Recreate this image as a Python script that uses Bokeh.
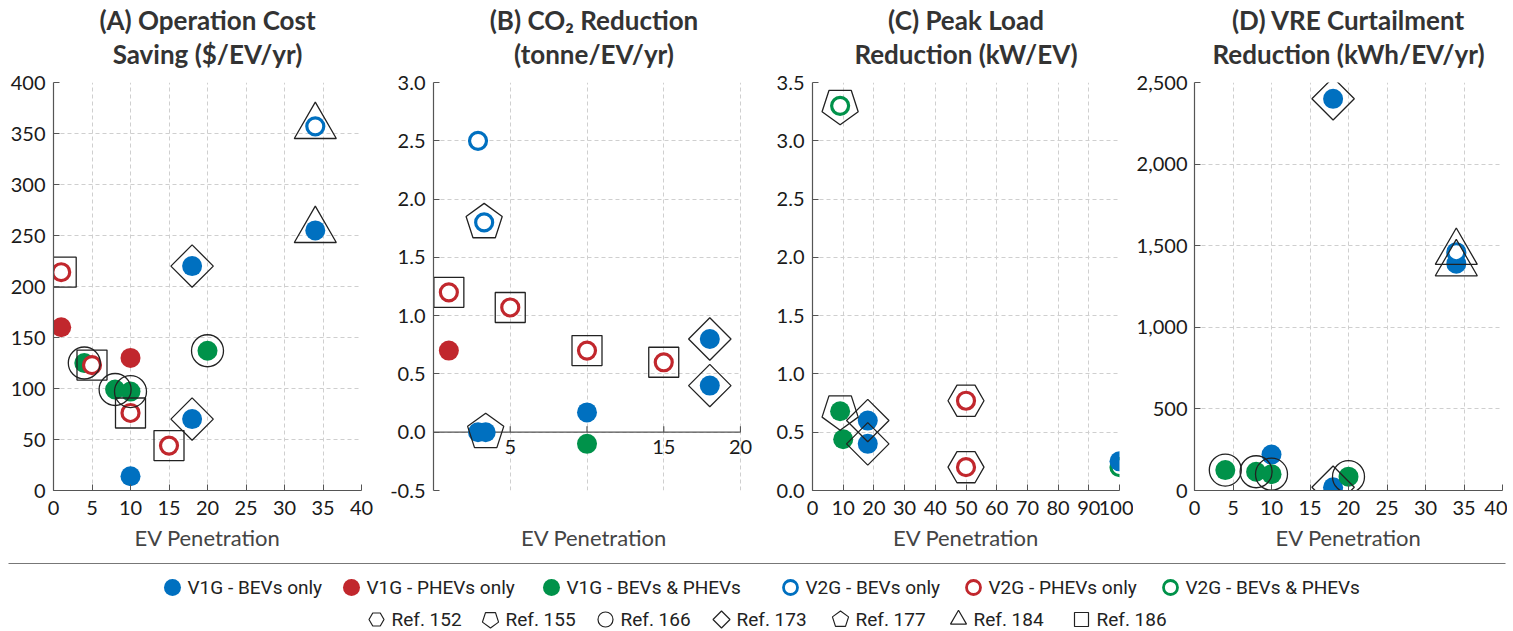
import math
from bokeh.plotting import figure
from bokeh.layouts import row, column
from bokeh.models import (Range1d, FixedTicker, Label, Title, NumeralTickFormatter,
                          ColumnDataSource)
from bokeh.core.properties import value
from bokeh.embed import file_html
from bokeh.resources import INLINE

# ---------------- data ----------------
SERIES_KEYS = ["V1G-B", "V1G-P", "V1G-BP", "V2G-B", "V2G-P", "V2G-BP"]
SERIES_LABELS = ["V1G - BEVs only", "V1G - PHEVs only", "V1G - BEVs & PHEVs",
                 "V2G - BEVs only", "V2G - PHEVs only", "V2G - BEVs & PHEVs"]
SERIES_COLORS = ["#0070C0", "#C1272D", "#00924A", "#0070C0", "#C1272D", "#00924A"]
SERIES_OPEN = [False, False, False, True, True, True]

REF_KEYS = ["152", "155", "166", "173", "177", "184", "186"]
REF_LABELS = ["Ref. 152", "Ref. 155", "Ref. 166", "Ref. 173", "Ref. 177", "Ref. 184", "Ref. 186"]

# (A) Operation cost saving ($/EV/yr)
a_x = [1, 1, 4, 5, 10, 8, 10, 10, 10, 15, 18, 18, 20, 34, 34]
a_y = [214, 160, 125, 123, 130, 99, 97, 76, 14, 44, 70, 220, 137, 255, 357]
a_s = ["V2G-P", "V1G-P", "V1G-BP", "V2G-P", "V1G-P", "V1G-BP", "V1G-BP", "V2G-P",
       "V1G-B", "V2G-P", "V1G-B", "V1G-B", "V1G-BP", "V1G-B", "V2G-B"]
a_r = ["186", "", "166", "186", "", "166", "166", "186", "", "186", "173", "173",
       "166", "184", "184"]

# (B) CO2 reduction (tonne/EV/yr)
b_x = [2.9, 3.3, 1, 1, 5, 10, 15, 18, 18, 10, 10, 2.9, 3.4]
b_y = [2.5, 1.8, 1.2, 0.7, 1.07, 0.7, 0.6, 0.8, 0.4, 0.17, -0.1, 0, 0]
b_s = ["V2G-B", "V2G-B", "V2G-P", "V1G-P", "V2G-P", "V2G-P", "V2G-P", "V1G-B",
       "V1G-B", "V1G-B", "V1G-BP", "V1G-B", "V1G-B"]
b_r = ["", "177", "186", "", "186", "186", "186", "173", "173", "", "", "", "177"]

# (C) Peak load reduction (kW/EV)
c_x = [9, 9, 10, 18, 18, 50, 50, 100, 100]
c_y = [3.3, 0.68, 0.44, 0.6, 0.4, 0.77, 0.2, 0.2, 0.25]
c_s = ["V2G-BP", "V1G-BP", "V1G-BP", "V1G-B", "V1G-B", "V2G-P", "V2G-P", "V2G-BP", "V1G-B"]
c_r = ["155", "155", "", "173", "173", "152", "152", "", ""]

# (D) VRE curtailment reduction (kWh/EV/yr)
d_x = [18, 34, 34, 10, 4, 8, 10, 18, 20]
d_y = [2400, 1390, 1460, 220, 125, 115, 100, 20, 85]
d_s = ["V1G-B", "V1G-B", "V2G-B", "V1G-B", "V1G-BP", "V1G-BP", "V1G-BP", "V1G-B", "V1G-BP"]
d_r = ["173", "184", "184", "", "166", "166", "166", "173", "166"]

# axes ticks
a_xticks = [0, 5, 10, 15, 20, 25, 30, 35, 40]
a_yticks = [0, 50, 100, 150, 200, 250, 300, 350, 400]
b_xticks = [5, 10, 15, 20]
b_xlabel_ticks = [5, 15, 20]
b_yticks = [-0.5, 0, 0.5, 1.0, 1.5, 2.0, 2.5, 3.0]
c_xticks = [0, 10, 20, 30, 40, 50, 60, 70, 80, 90, 100]
c_yticks = [0, 0.5, 1.0, 1.5, 2.0, 2.5, 3.0, 3.5]
d_xticks = [0, 5, 10, 15, 20, 25, 30, 35, 40]
d_yticks = [0, 500, 1000, 1500, 2000, 2500]

# ---------------- styles ----------------
FONT = "Lato"
LEG_FONT = "Roboto"
AX_COLOR = "#555555"
REF_COLOR = "#222222"
FRAME_H = 408
TICK_FS = "20px"
TICK_IN = 6

REF_STYLE = {
    "152": ("hex", 36, 0.0),
    "155": ("pent_down", 19, 0.0),
    "166": ("circle", 32, 0.0),
    "173": ("square", 30, math.pi / 4),
    "177": ("pent_up", 19, 0.0),
    "184": ("triangle", 42, 0.0),
    "186": ("square", 30, 0.0),
}


def pentagon(cx, cy, R, up, sx, sy):
    base = 90 if up else -90
    xs = [cx + R * math.cos(math.radians(base + 72 * k)) / sx for k in range(5)]
    ys = [cy + R * math.sin(math.radians(base + 72 * k)) / sy for k in range(5)]
    return xs, ys


def style_axis(ax, standoff):
    ax.axis_line_color = AX_COLOR
    ax.axis_line_width = 1.2
    ax.major_tick_line_color = AX_COLOR
    ax.major_tick_in = TICK_IN
    ax.major_tick_out = 0
    ax.minor_tick_line_color = None
    ax.major_label_text_font = FONT
    ax.major_label_text_font_size = TICK_FS
    ax.major_label_text_color = "#1a1a1a"
    ax.major_label_standoff = standoff


def make_panel(line1, line2, xs, ys, ss, rs, xr, yr, xticks, yticks, yfmt,
               frame_w, bl, br, zero_axis=False, xlabel_ticks=None, ystandoff=8,
               x_extra=0.0):
    sx = frame_w / (xr[1] - xr[0])
    sy = FRAME_H / (yr[1] - yr[0])
    extra_px = int(round(x_extra * sx))
    p = figure(frame_width=frame_w + extra_px, frame_height=FRAME_H,
               x_range=Range1d(xr[0], xr[1] + extra_px / sx), y_range=Range1d(*yr),
               toolbar_location=None, output_backend="svg",
               min_border_left=bl, min_border_right=br - extra_px,
               min_border_top=82, min_border_bottom=62)
    p.outline_line_color = None
    p.background_fill_color = "white"
    p.border_fill_color = "white"

    # two-line bold title (spacer keeps it off the frame)
    spacer = Title(text=" ", text_font=FONT, text_font_size="9px", standoff=0)
    t2 = Title(text=line2, align="center", text_font=FONT, text_font_size="26px",
               text_font_style="bold", text_color="#333333", standoff=0)
    p.add_layout(spacer, "above")
    p.add_layout(t2, "above")
    p.title.text = line1
    p.title.align = "center"
    p.title.text_font = FONT
    p.title.text_font_size = "26px"
    p.title.text_font_style = "bold"
    p.title.text_color = "#333333"
    p.title.standoff = 0

    style_axis(p.yaxis[0], ystandoff)
    p.yaxis.ticker = FixedTicker(ticks=yticks)
    p.yaxis.formatter = NumeralTickFormatter(format=yfmt)

    xa = p.xaxis[0]
    style_axis(xa, 10)
    xa.axis_label = "EV Penetration"
    xa.axis_label_text_font = FONT
    xa.axis_label_text_font_size = "22px"
    xa.axis_label_text_font_style = "normal"
    xa.axis_label_text_color = "#444444"
    xa.axis_label_standoff = 6
    if zero_axis:
        # x axis crossing at y = 0
        xa.ticker = FixedTicker(ticks=[])
        xa.axis_line_color = None
        xa.major_tick_line_color = None
        xa.axis_label_standoff = 33
        p.segment(x0=[xr[0]], y0=[0], x1=[xr[1]], y1=[0], line_color=AX_COLOR,
                  line_width=1.2)
        p.segment(x0=xticks, y0=[0] * len(xticks), x1=xticks,
                  y1=[TICK_IN / sy] * len(xticks), line_color=AX_COLOR, line_width=1.2)
        for v in xlabel_ticks:
            p.add_layout(Label(x=v, y=0, y_offset=-8, text=str(v),
                               text_align="center", text_baseline="top",
                               text_font=FONT, text_font_size=TICK_FS,
                               text_color="#1a1a1a"))
    else:
        xa.ticker = FixedTicker(ticks=xticks)

    p.xgrid.ticker = FixedTicker(ticks=xticks)
    p.ygrid.ticker = FixedTicker(ticks=yticks)
    p.grid.grid_line_color = "#cfcfcf"
    p.grid.grid_line_dash = "4 3"
    p.grid.grid_line_width = 1

    if extra_px:
        # hide grid beyond the data range (room kept only for the last tick label)
        p.quad(left=[xr[1] + 0.5 / sx], right=[xr[1] + extra_px / sx],
               bottom=[yr[0]], top=[yr[1]], fill_color="white", line_color=None)

    # data points
    fill, line, lw, la, size = [], [], [], [], []
    for s in ss:
        i = SERIES_KEYS.index(s)
        c = SERIES_COLORS[i]
        if SERIES_OPEN[i]:
            fill.append("white"); line.append(c); lw.append(3.2); la.append(1.0); size.append(17)
        else:
            fill.append(c); line.append(c); lw.append(0.5); la.append(0.0); size.append(20)
    src = ColumnDataSource(dict(x=xs, y=ys, fill=fill, line=line, lw=lw, la=la, size=size))
    p.scatter("x", "y", source=src, marker="circle", size="size", fill_color="fill",
              line_color="line", line_width="lw", line_alpha="la")

    # reference outlines
    for key in REF_KEYS:
        px = [x for x, r in zip(xs, rs) if r == key]
        py = [y for y, r in zip(ys, rs) if r == key]
        if not px:
            continue
        shape, sz, ang = REF_STYLE[key]
        if shape.startswith("pent"):
            pxs, pys = [], []
            for x, y in zip(px, py):
                vx, vy = pentagon(x, y, sz, shape == "pent_up", sx, sy)
                pxs.append(vx); pys.append(vy)
            p.patches(pxs, pys, fill_color=None, line_color=REF_COLOR, line_width=1.3)
        else:
            p.scatter(px, py, marker=shape, size=sz, angle=ang, fill_color=None,
                      line_color=REF_COLOR, line_width=1.3)
    return p


pA = make_panel("(A) Operation Cost", "Saving ($/EV/yr)", a_x, a_y, a_s, a_r,
                (0, 40), (0, 400), a_xticks, a_yticks, "0", 308, 53, 26)
pB = make_panel("(B) CO\u2082 Reduction", "(tonne/EV/yr)", b_x, b_y, b_s, b_r,
                (0, 20), (-0.5, 3.0), b_xticks, b_yticks, "0.0", 307, 45, 27,
                zero_axis=True, xlabel_ticks=b_xlabel_ticks, x_extra=0.9)
pC = make_panel("(C) Peak Load", "Reduction (kW/EV)", c_x, c_y, c_s, c_r,
                (0, 100), (0, 3.5), c_xticks, c_yticks, "0.0", 307, 45, 14)
pD = make_panel("(D) VRE Curtailment", "Reduction (kWh/EV/yr)", d_x, d_y, d_s, d_r,
                (0, 40), (0, 2500), d_xticks, d_yticks, "0,0", 308, 60, 5, ystandoff=7)

# ---------------- legend ----------------
LW, LH = 1513, 79
leg = figure(width=LW, height=LH, x_range=Range1d(0, LW), y_range=Range1d(LH, 0),
             toolbar_location=None, output_backend="svg",
             x_axis_location=None, y_axis_location=None, min_border=0)
leg.grid.visible = False
leg.outline_line_color = None
leg.line(x=[8, 1505], y=[10, 10], line_color="#777777", line_width=1.2)

row1_y, row2_y = 34, 66
row1_x = [172, 351, 551, 790, 973, 1170]
row2_x = [376, 490, 605, 721, 840, 958, 1081]

fill, line, lw, la, size = [], [], [], [], []
for i in range(len(SERIES_KEYS)):
    c = SERIES_COLORS[i]
    if SERIES_OPEN[i]:
        fill.append("white"); line.append(c); lw.append(2.8); la.append(1.0); size.append(14)
    else:
        fill.append(c); line.append(c); lw.append(0.5); la.append(0.0); size.append(17)
lsrc = ColumnDataSource(dict(x=row1_x, y=[row1_y] * 6, fill=fill, line=line, lw=lw, la=la, size=size))
leg.scatter("x", "y", source=lsrc, marker="circle", size="size", fill_color="fill",
            line_color="line", line_width="lw", line_alpha="la")
leg.text([x + 15 for x in row1_x], [row1_y] * 6, text=SERIES_LABELS,
         text_font=value(LEG_FONT), text_font_size="19px", text_color="#222222",
         text_baseline="middle", text_align="left")

LEG_REF_SIZE = {"152": 15, "155": 8.5, "166": 15, "173": 12, "177": 8.5, "184": 16, "186": 14}
for key, x in zip(REF_KEYS, row2_x):
    shape, _, ang = REF_STYLE[key]
    sz = LEG_REF_SIZE[key]
    if shape.startswith("pent"):
        vx, vy = pentagon(x, row2_y, sz, shape == "pent_up", 1, -1)
        leg.patch(vx, vy, fill_color=None, line_color=REF_COLOR, line_width=1.2)
    else:
        leg.scatter([x], [row2_y], marker=shape, size=sz, angle=ang, fill_color=None,
                    line_color=REF_COLOR, line_width=1.2)
leg.text([x + 15 for x in row2_x], [row2_y] * 7, text=REF_LABELS,
         text_font=value(LEG_FONT), text_font_size="19px", text_color="#222222",
         text_baseline="middle", text_align="left")

layout = column(row(pA, pB, pC, pD), leg)
open("out.html", "w").write(file_html(layout, INLINE))
